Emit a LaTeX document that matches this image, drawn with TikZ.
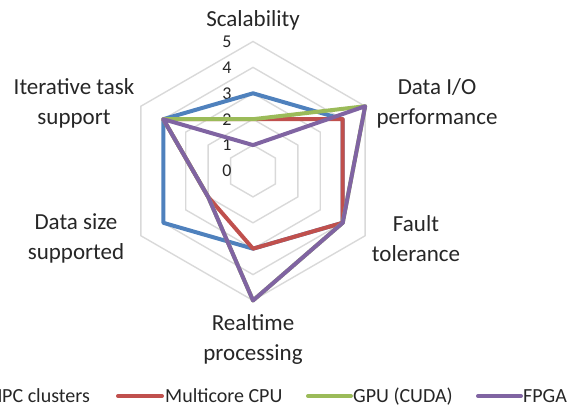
\documentclass[tikz,border=0pt]{standalone}
\usepackage{fontspec}
\setmainfont{Carlito}
\definecolor{hpcblue}{HTML}{4F81BD}
\definecolor{cpured}{HTML}{C0504D}
\definecolor{gpugreen}{HTML}{9BBB59}
\definecolor{fpgapurple}{HTML}{8064A2}
\definecolor{gridgray}{HTML}{D9D9D9}
\definecolor{txt}{HTML}{262626}
\tikzset{
  gridline/.style={draw=gridgray, line width=1.4pt},
  series/.style={line width=4pt, line join=round, line cap=round},
  axislabel/.style={align=center, text=txt, inner sep=0pt, font=\fontsize{23}{30}\selectfont},
  ticklabel/.style={text=txt, inner sep=0pt, font=\fontsize{18}{20}\selectfont},
  legendtext/.style={text=txt, inner sep=0pt, font=\fontsize{20}{24}\selectfont},
  legendline/.style={line width=4pt, line cap=round}
}
\begin{document}
\begin{tikzpicture}[x=1pt,y=1pt]
\useasboundingbox (0,0) rectangle (570,406);
\clip (0,0) rectangle (570,406);
\def\u{25.9}
\begin{scope}[shift={(253,235)}]
  % grid
  \foreach \l in {1,...,5} {
    \draw[gridline] (90:{\l*\u}) -- (30:{\l*\u}) -- (-30:{\l*\u}) -- (-90:{\l*\u}) -- (210:{\l*\u}) -- (150:{\l*\u}) -- cycle;
  }
  % tick labels
  \foreach \l in {0,...,5} {
    \node[ticklabel] (tick\l) at (-26,{\l*\u}) {\l};
  }
  % series
  \foreach \name/\col/\a/\b/\c/\d/\e/\f in {hpc/hpcblue/3/4/4/3/4/4, cpu/cpured/2/4/4/3/2/4, gpu/gpugreen/2/5/4/5/2/4, fpga/fpgapurple/1/5/4/5/2/4} {
    \coordinate (\name-1) at (90:{\a*\u});
    \coordinate (\name-2) at (30:{\b*\u});
    \coordinate (\name-3) at (-30:{\c*\u});
    \coordinate (\name-4) at (-90:{\d*\u});
    \coordinate (\name-5) at (210:{\e*\u});
    \coordinate (\name-6) at (150:{\f*\u});
    \draw[series, draw=\col] (\name-1) -- (\name-2) -- (\name-3) -- (\name-4) -- (\name-5) -- (\name-6) -- cycle;
  }
  % axis labels
  \node[axislabel] (scal) at (0,151) {Scalability};
  \node[axislabel] (dataio) at (184,68) {Data I/O\\performance};
  \node[axislabel] (fault) at (163,-67.5) {Fault\\tolerance};
  \node[axislabel] (realtime) at (0,-168.5) {Realtime\\processing};
  \node[axislabel] (datasize) at (-177,-67.5) {Data size\\supported};
  \node[axislabel] (iter) at (-179,68) {Iterative task\\support};
\end{scope}
% legend
\node[legendtext, anchor=base east] (lghpc) at (90,3.6) {HPC clusters};
\coordinate (lcpuA) at (118,10); \coordinate (lcpuB) at (162,10);
\draw[legendline, cpured] (lcpuA) -- (lcpuB);
\node[legendtext, anchor=base west] (lgcpu) at (165,3.6) {Multicore CPU};
\coordinate (lgpuA) at (308,10); \coordinate (lgpuB) at (351,10);
\draw[legendline, gpugreen] (lgpuA) -- (lgpuB);
\node[legendtext, anchor=base west] (lggpu) at (353,3.6) {GPU (CUDA)};
\coordinate (lfpgaA) at (478,10); \coordinate (lfpgaB) at (521,10);
\draw[legendline, fpgapurple] (lfpgaA) -- (lfpgaB);
\node[legendtext, anchor=base west] (lgfpga) at (523,3.6) {FPGA};
\end{tikzpicture}
\end{document}
